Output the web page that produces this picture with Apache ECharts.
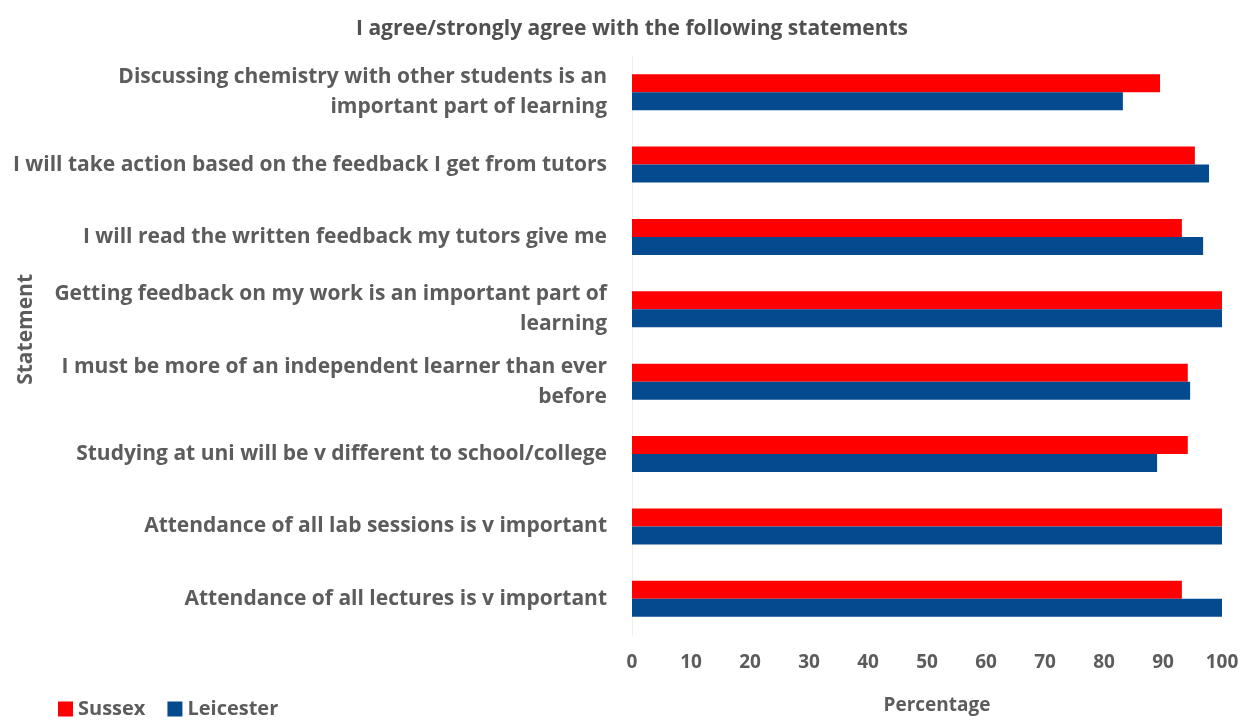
<!DOCTYPE html>
<html>
<head>
<meta charset="utf-8">
<script src="https://cdn.jsdelivr.net/npm/echarts@6/dist/echarts.min.js"></script>
<style>html,body{margin:0;padding:0;background:#fff}#c{width:1244px;height:720px}</style>
</head>
<body>
<div id="c"></div>
<script>
const categories = [
  'Discussing chemistry with other students is an\nimportant part of learning',
  'I will take action based on the feedback I get from tutors',
  'I will read the written feedback my tutors give me',
  'Getting feedback on my work is an important part of\nlearning',
  'I must be more of an independent learner than ever\nbefore',
  'Studying at uni will be v different to school/college',
  'Attendance of all lab sessions is v important',
  'Attendance of all lectures is v important'
];
const sussex = [89.5, 95.4, 93.2, 100, 94.2, 94.2, 100, 93.2];
const leicester = [83.2, 97.8, 96.8, 100, 94.6, 89.0, 100, 100];
const xTicks = [0, 10, 20, 30, 40, 50, 60, 70, 80, 90, 100];

const font = 'Open Sans';
const txt = '#5c5c5c';
const chart = echarts.init(document.getElementById('c'));
chart.setOption({
  animation: false,
  title: {
    text: 'I agree/strongly agree with the following statements',
    left: 627, top: 14, textAlign: 'center',
    textStyle: {fontFamily: font, fontSize: 21, fontWeight: 'bold', color: '#505050'}
  },
  legend: {
    left: 58, top: 699, itemWidth: 15, itemHeight: 15, itemGap: 22,
    icon: 'rect', padding: 0,
    textStyle: {fontFamily: font, fontSize: 20, fontWeight: 'bold', color: txt}
  },
  graphic: [{
    type: 'text', left: 16, top: 274, rotation: Math.PI / 2,
    style: {text: 'Statement', font: 'bold 21px "Open Sans"', fill: txt}
  }],
  grid: {left: 632, right: 22, top: 56, bottom: 84, containLabel: false},
  xAxis: {
    type: 'value', min: 0, max: 100, interval: 10,
    name: 'Percentage', nameLocation: 'middle', nameGap: 61,
    nameTextStyle: {fontFamily: font, fontSize: 19, fontWeight: 'bold', color: txt, padding: [0, 0, 0, 20]},
    axisLabel: {fontFamily: font, fontSize: 19, fontWeight: 'bold', color: txt, margin: 18,
      formatter: v => xTicks.includes(v) ? String(v) : ''},
    axisLine: {show: false}, axisTick: {show: false},
    splitLine: {show: false}
  },
  yAxis: {
    type: 'category', data: categories, inverse: true,
    axisLabel: {fontFamily: font, fontSize: 21, fontWeight: 'bold', color: txt, margin: 25,
      align: 'right', lineHeight: 30},
    axisLine: {show: true, lineStyle: {color: '#eeeeee'}},
    axisTick: {show: false}
  },
  series: [
    {name: 'Sussex', type: 'bar', data: sussex, barWidth: 18, barGap: '0%',
      itemStyle: {color: '#ff0000'}},
    {name: 'Leicester', type: 'bar', data: leicester, barWidth: 18, barGap: '0%',
      itemStyle: {color: '#044a8f'}}
  ]
});
</script>
</body>
</html>
